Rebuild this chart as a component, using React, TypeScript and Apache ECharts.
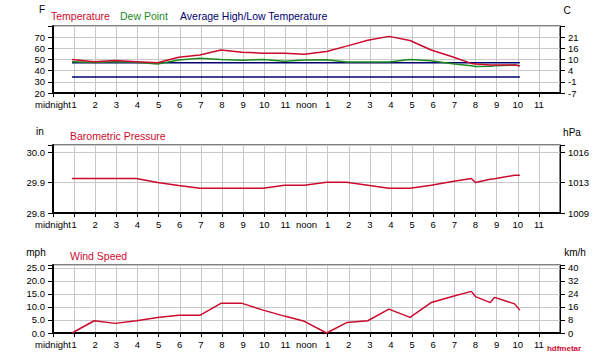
import React, { useEffect, useRef } from "react";
import * as echarts from "echarts";

// observation times (hours after midnight)
const hours = [0.9, 1.95, 2.95, 3.95, 4.95, 5.95, 6.95, 7.95, 8.95, 9.95, 10.95, 11.9, 12.95, 13.9, 14.9, 15.9, 16.9, 17.9, 18.9, 19.8, 20.0, 20.7, 20.9, 21.85, 22.1];
const temperatureF = [50, 48, 49, 48, 47, 52, 54, 58.5, 56.5, 55.7, 55.5, 54.8, 57.2, 62, 67.3, 70.7, 67, 58.5, 52.5, 46.5, 45.9, 45, 45, 45, 44.4];
const dewPointF = [48, 47.4, 48, 47.5, 46, 49.5, 51.2, 50, 49.4, 50, 48.5, 49.5, 49.7, 47.7, 47.7, 47.8, 50, 48.8, 46.3, 44.5, 43.8, 44, 44.4, 45, 44.4];
const avgHighF = 47.0;
const avgLowF = 34.3;
const pressureIn = [29.913, 29.913, 29.913, 29.913, 29.9, 29.89, 29.881, 29.881, 29.881, 29.881, 29.891, 29.891, 29.901, 29.901, 29.891, 29.881, 29.881, 29.891, 29.903, 29.913, 29.9, 29.911, 29.912, 29.924, 29.924];
const windMph = [0, 4.7, 3.7, 4.7, 6.0, 6.8, 6.8, 11.4, 11.4, 8.8, 6.5, 4.5, 0, 4.0, 4.7, 9.2, 6.0, 11.7, 14.0, 16.0, 14.0, 11.7, 13.7, 11.2, 8.8];

const hourLabels = ["midnight", "1", "2", "3", "4", "5", "6", "7", "8", "9", "10", "11", "noon", "1", "2", "3", "4", "5", "6", "7", "8", "9", "10", "11"];
const tempTicks = [20, 30, 40, 50, 60, 70];
const tempLabelsF = ["20", "30", "40", "50", "60", "70"];
const tempLabelsC = ["-7", "-1", "4", "10", "16", "21"];
const pressTicks = [29.8, 29.9, 30.0];
const pressLabelsIn = ["29.8", "29.9", "30.0"];
const pressLabelsHpa = ["1009", "1013", "1016"];
const windTicks = [0, 5, 10, 15, 20, 25];
const windLabelsMph = ["0.0", "5.0", "10.0", "15.0", "20.0", "25.0"];
const windLabelsKmh = ["0", "8", "16", "24", "32", "40"];

const FONT = "Liberation Sans";
const RED = "#cc0a2e";
const GREEN = "#1e8a1e";
const NAVY = "#000070";

const labelFor = (ticks: number[], labels: string[]) => (v: number) => {
  const i = ticks.findIndex((t) => Math.abs(t - v) < 1e-6);
  return i >= 0 ? labels[i] : "";
};

export default function App() {
  const ref = useRef<HTMLDivElement>(null);
  useEffect(() => {
    if (!ref.current) return;
    const chart = echarts.init(ref.current, null, { renderer: "svg" });
    const grids = [
      { left: 53, width: 507, top: 26, height: 67 },
      { left: 53, width: 507, top: 145, height: 68 },
      { left: 53, width: 507, top: 265, height: 68 },
    ];
    const xAxes = grids.map((_, i) => ({
      type: "value",
      gridIndex: i,
      min: 0,
      max: 24,
      interval: 1,
      axisLine: { show: true, lineStyle: { color: "#000", width: 2 } },
      axisTick: { show: true, length: 4, lineStyle: { color: "#000" } },
      axisLabel: {
        color: "#000",
        fontFamily: FONT,
        fontSize: 9.5,
        margin: 6,
        showMaxLabel: false,
        formatter: (v: number) => hourLabels[Math.round(v)] ?? "",
      },
      splitLine: { show: true, lineStyle: { color: "#c8c8c8", width: 1 } },
    }));
    const yBase = (grid: number, min: number, max: number, interval: number, pos: string, fmt: any, split: boolean) => ({
      type: "value",
      gridIndex: grid,
      position: pos,
      min,
      max,
      interval,
      axisLine: { show: true, lineStyle: { color: "#000", width: pos === "left" ? 2 : 1 } },
      axisTick: { show: true, length: 5, lineStyle: { color: "#000" } },
      axisLabel: { color: "#000", fontFamily: FONT, fontSize: 9.5, margin: 8, formatter: fmt },
      splitLine: { show: split, lineStyle: { color: "#c8c8c8", width: 1 } },
    });
    const yAxes = [
      yBase(0, 20, 80, 10, "left", labelFor(tempTicks, tempLabelsF), true),
      yBase(0, 20, 80, 10, "right", labelFor(tempTicks, tempLabelsC), false),
      yBase(1, 29.8, 30.023, 0.1, "left", labelFor(pressTicks, pressLabelsIn), true),
      yBase(1, 29.8, 30.023, 0.1, "right", labelFor(pressTicks, pressLabelsHpa), false),
      yBase(2, 0, 26.15, 5, "left", labelFor(windTicks, windLabelsMph), true),
      yBase(2, 0, 26.15, 5, "right", labelFor(windTicks, windLabelsKmh), false),
    ];
    const pairs = (vals: number[]) => hours.map((h, i) => [h, vals[i]]);
    const flat = (v: number) => [[hours[0], v], [hours[hours.length - 1], v]];
    const line = (name: string, data: any, xi: number, yi: number, color: string, w = 1.5) => ({
      name,
      type: "line",
      xAxisIndex: xi,
      yAxisIndex: yi,
      data,
      symbol: "none",
      lineStyle: { color, width: w },
      itemStyle: { color },
    });
    const txt = (text: string, x: number, y: number, color: string, size = 10.5, align = "left", weight = "normal") => ({
      type: "text",
      x,
      y,
      style: { text, fill: color, font: `${weight} ${size}px "${FONT}"`, textAlign: align, textVerticalAlign: "middle" },
    });
    chart.setOption({
      animation: false,
      backgroundColor: "#fff",
      grid: grids.map((g) => ({ ...g, show: true, borderColor: "#000", borderWidth: 1, backgroundColor: "#fff" })),
      xAxis: xAxes,
      yAxis: yAxes,
      series: [
        line("Average High", flat(avgHighF), 0, 0, NAVY, 1.5),
        line("Average Low", flat(avgLowF), 0, 0, NAVY, 1.5),
        line("Dew Point", pairs(dewPointF), 0, 0, GREEN, 1.5),
        line("Temperature", pairs(temperatureF), 0, 0, RED, 1.5),
        line("Barometric Pressure", pairs(pressureIn), 1, 2, RED, 1.5),
        line("Wind Speed", pairs(windMph), 2, 4, RED, 1.5),
      ],
      graphic: [
        txt("F", 42, 9, "#000", 10, "center"),
        txt("C", 567, 10, "#000", 10, "center"),
        txt("Temperature", 51, 16, RED),
        txt("Dew Point", 120, 16, GREEN),
        txt("Average High/Low Temperature", 180, 16, NAVY),
        txt("in", 40, 131, "#000", 10, "center"),
        txt("hPa", 572, 132, "#000", 10, "center"),
        txt("Barometric Pressure", 70, 136, RED),
        txt("mph", 36, 252, "#000", 10, "center"),
        txt("km/h", 575, 252, "#000", 10, "center"),
        txt("Wind Speed", 70, 256, RED),
        txt("hdfmetar", 564, 348, RED, 8, "center", "bold"),
      ],
    });
    return () => chart.dispose();
  }, []);
  return <div ref={ref} style={{ position: "fixed", left: 0, top: 0, width: 600, height: 360, background: "#fff" }} />;
}
